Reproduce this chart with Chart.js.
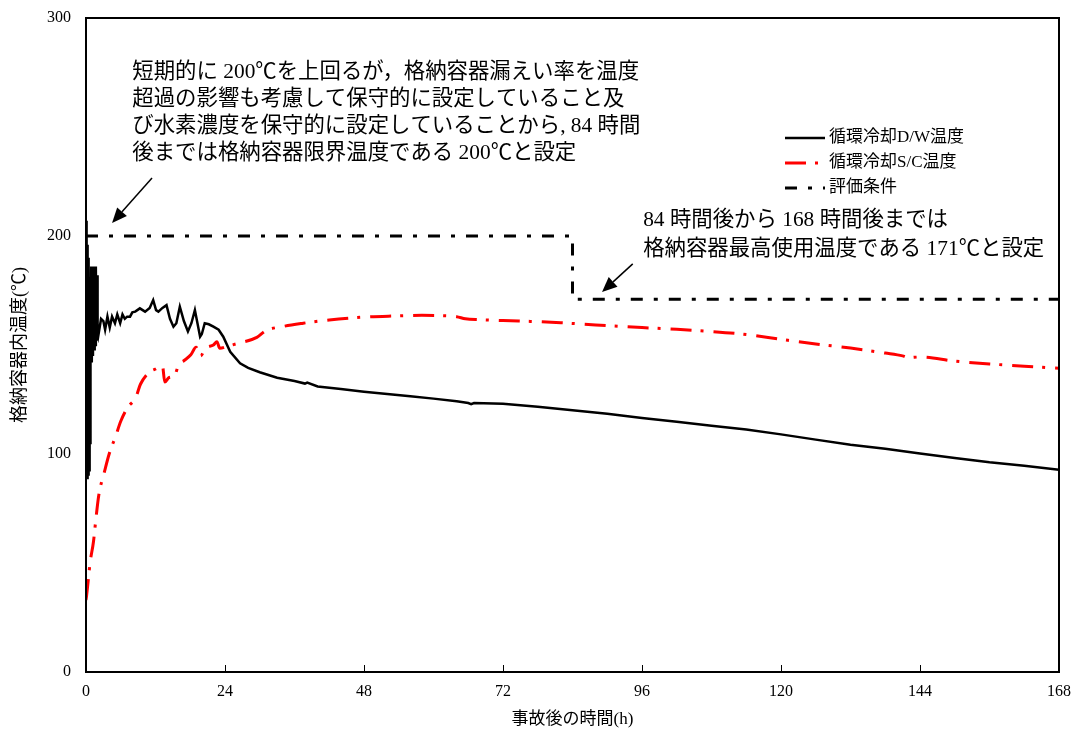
<!DOCTYPE html>
<html lang="ja">
<head>
<meta charset="utf-8">
<script src="https://cdn.jsdelivr.net/npm/chart.js@4.4.1/dist/chart.umd.min.js"></script>
<style>
  html, body { margin: 0; padding: 0; background: #fff; }
  #wrap { width: 1074px; height: 735px; }
</style>
</head>
<body>
<div id="wrap"><canvas id="c" width="1074" height="735"></canvas></div>
<script>
// Axis ticks
const xTicks = [0, 24, 48, 72, 96, 120, 144, 168];
const yTicks = [0, 100, 200, 300];

// Series labels
const labelDW = '循環冷却D/W温度';
const labelSC = '循環冷却S/C温度';
const labelLimit = '評価条件';

// Circulation-cooled D/W temperature (h, ℃)
const dwHours = [
  0, 0.05, 0.1, 0.15, 0.2, 0.25, 0.3, 0.35, 0.4, 0.45,
  0.5, 0.55, 0.6, 0.65, 0.7, 0.75, 0.8, 0.9, 1.0, 1.1,
  1.2, 1.3, 1.4, 1.5, 1.6, 1.7, 1.8, 1.9, 2.0, 2.1,
  2.6, 3.0, 3.3, 3.7, 4.1, 4.5, 5.0, 5.4, 5.9, 6.3,
  6.7, 7.1, 7.6, 8.0, 8.5, 9.3, 10.2, 11.0, 11.6, 12.1,
  12.5, 13.2, 13.9, 14.5, 15.1, 15.6, 16.2, 16.9, 17.6, 18.2,
  18.8, 19.7, 20.0, 20.5, 21.2, 22.0, 22.9, 23.7, 24.9, 26.6,
  28, 30, 33, 36, 37.8, 38.2, 40, 44, 48, 52,
  56, 60, 64, 66, 66.5, 67, 72, 78, 84, 90,
  96, 102, 108, 114, 120, 126, 132, 138, 144, 150,
  156, 162, 168
];
const dwTemp = [
  140, 207, 92, 201, 89, 196, 95, 190, 90, 186,
  100, 181, 92, 176, 105, 170, 140, 186, 142, 185,
  145, 186, 148, 184, 150, 186, 152, 182, 155, 153.8,
  162, 161, 157, 163, 158, 163, 160, 164, 160, 164,
  162, 163, 163, 165, 165.3, 166.8, 165.3, 167, 170.6, 166,
  165.3, 167, 168.3, 162, 158.4, 160, 167.6, 161, 156.2, 160,
  166, 153.8, 155, 160, 159.5, 158.4, 157, 153.8, 146.9, 141.6,
  139.5, 137.5, 135, 133.5, 132.3, 132.8, 131, 129.8, 128.6, 127.5,
  126.5, 125.4, 124.2, 123.4, 122.9, 123.4, 123.1, 121.7, 120.1, 118.5,
  116.5, 114.8, 113, 111.2, 109, 106.6, 104.2, 102.4, 100.2, 98.2,
  96.2, 94.6, 92.8
];

// Circulation-cooled S/C temperature (h, ℃)
const scHours = [
  0, 0.1, 0.5, 0.7, 1.3, 1.7, 2.2, 3.2, 4.0, 5.1,
  6.0, 7.1, 8.6, 9.4, 10.9, 12.0, 13.2, 13.6, 14.3, 15.3,
  16.0, 17.0, 18.1, 19.0, 19.8, 20.6, 22.0, 22.6, 23.1, 24.5,
  26.6, 29.5, 31, 34, 37.5, 42, 48, 53, 58, 61,
  64, 65.5, 68, 72, 78, 82, 88, 96, 102, 108,
  114, 120, 126, 132, 138, 141, 142, 144, 150, 156,
  162, 168
];
const scTemp = [
  33, 35, 45, 50, 60, 70, 81, 92, 100, 108,
  115, 121, 126, 132, 137.5, 139, 140.5, 133, 135, 136,
  141, 143, 145.5, 149, 145, 148.5, 150, 151.5, 148.5, 149.5,
  151, 153.5, 156.5, 158.5, 160, 161.5, 162.8, 163.3, 163.6, 163.5,
  163, 162, 161.6, 161.2, 160.7, 160.2, 159.2, 158, 157.2, 156.2,
  154.8, 152.6, 150.5, 148.6, 146.3, 145, 144.2, 144.5, 142.6, 141.3,
  140.3, 139.3
];

// Evaluation condition: 200℃ up to 84 h, then 171℃ up to 168 h
const limitHours = [0, 84, 84, 168];
const limitTemp = [200, 200, 171, 171];

// Notes
const noteLimit200 = [
  '短期的に 200℃を上回るが，格納容器漏えい率を温度',
  '超過の影響も考慮して保守的に設定していること及',
  'び水素濃度を保守的に設定していることから, 84 時間',
  '後までは格納容器限界温度である 200℃と設定'
];
const noteLimit171 = [
  '84 時間後から 168 時間後までは',
  '格納容器最高使用温度である 171℃と設定'
];

const SERIF = "'Liberation Serif', 'Noto Sans CJK JP', serif";

function pairs(xs, ys) {
  return xs.map((x, i) => ({ x: x, y: ys[i] }));
}

// Frame, inner tick marks, notes with arrows, and the legend box
const decorations = {
  id: 'decorations',
  afterDatasetsDraw(chart) {
    const { ctx, chartArea: a, scales: { x, y } } = chart;
    ctx.save();

    // plot frame
    ctx.strokeStyle = '#000';
    ctx.lineWidth = 2;
    ctx.setLineDash([]);
    ctx.strokeRect(a.left, a.top, a.right - a.left, a.bottom - a.top);

    // x tick marks pointing inward
    ctx.lineWidth = 1;
    xTicks.slice(1, -1).forEach(v => {
      const px = Math.round(x.getPixelForValue(v)) + 0.5;
      ctx.beginPath();
      ctx.moveTo(px, a.bottom);
      ctx.lineTo(px, a.bottom - 7);
      ctx.stroke();
    });

    // notes
    ctx.fillStyle = '#000';
    ctx.font = '21.4px ' + SERIF;
    ctx.textAlign = 'left';
    ctx.textBaseline = 'middle';
    const notes = [
      { lines: noteLimit200, hx: 8.0, ty: 275.2, step: 27 },
      { lines: noteLimit171, hx: 96.2, ty: 207.3, step: 29 }
    ];
    notes.forEach(n => {
      const px = x.getPixelForValue(n.hx);
      const py = y.getPixelForValue(n.ty);
      n.lines.forEach((t, i) => ctx.fillText(t, px, py + i * n.step));
    });

    // arrows pointing at the evaluation condition
    const arrows = [
      { from: [11.4, 226.6], to: [4.5, 206] },
      { from: [94.4, 187.2], to: [89.1, 174.3] }
    ];
    arrows.forEach(ar => {
      const x0 = x.getPixelForValue(ar.from[0]), y0 = y.getPixelForValue(ar.from[1]);
      const x1 = x.getPixelForValue(ar.to[0]), y1 = y.getPixelForValue(ar.to[1]);
      const ang = Math.atan2(y1 - y0, x1 - x0);
      const len = 15, half = 6.5;
      const bx = x1 - len * Math.cos(ang), by = y1 - len * Math.sin(ang);
      ctx.lineWidth = 1.5;
      ctx.beginPath();
      ctx.moveTo(x0, y0);
      ctx.lineTo(bx, by);
      ctx.stroke();
      ctx.beginPath();
      ctx.moveTo(x1, y1);
      ctx.lineTo(bx + half * Math.sin(ang), by - half * Math.cos(ang));
      ctx.lineTo(bx - half * Math.sin(ang), by + half * Math.cos(ang));
      ctx.closePath();
      ctx.fill();
    });

    // legend
    const lx = a.right - 274, ly = a.top + 120, rowH = 25, sw = 40;
    ctx.font = '17px ' + SERIF;
    chart.data.datasets.forEach((ds, i) => {
      const yy = ly + i * rowH;
      ctx.strokeStyle = ds.borderColor;
      ctx.lineWidth = ds.borderWidth;
      ctx.setLineDash(ds.borderDash || []);
      ctx.lineCap = 'butt';
      ctx.beginPath();
      ctx.moveTo(lx, yy);
      ctx.lineTo(lx + sw, yy);
      ctx.stroke();
      ctx.setLineDash([]);
      ctx.fillStyle = '#000';
      ctx.fillText(ds.label, lx + sw + 4, yy);
    });

    ctx.restore();
  }
};

const tickFont = { family: SERIF, size: 16 };
const titleFont = { family: SERIF, size: 17 };
const yTitleFont = { family: SERIF, size: 18 };

new Chart(document.getElementById('c'), {
  type: 'line',
  data: {
    datasets: [
      {
        label: labelDW,
        data: pairs(dwHours, dwTemp),
        borderColor: '#000000',
        borderWidth: 2.5,
        borderDash: [],
        pointRadius: 0,
        tension: 0,
        fill: false
      },
      {
        label: labelSC,
        data: pairs(scHours, scTemp),
        borderColor: '#ff0000',
        borderWidth: 3,
        borderDash: [21, 9, 3, 10],
        pointRadius: 0,
        cubicInterpolationMode: 'monotone',
        fill: false
      },
      {
        label: labelLimit,
        data: pairs(limitHours, limitTemp),
        borderColor: '#000000',
        borderWidth: 3,
        borderDash: [12, 11, 4, 11],
        pointRadius: 0,
        tension: 0,
        fill: false
      }
    ]
  },
  options: {
    responsive: false,
    animation: false,
    devicePixelRatio: 1,
    layout: { padding: { left: 0, right: 15, top: 18, bottom: 0 } },
    plugins: {
      legend: { display: false },
      tooltip: { enabled: false }
    },
    scales: {
      x: {
        type: 'linear',
        min: 0,
        max: 168,
        afterBuildTicks: s => { s.ticks = xTicks.map(v => ({ value: v })); },
        afterFit: s => { s.height = 63; s.paddingLeft = 0; s.paddingRight = 0; },
        ticks: { font: tickFont, color: '#000', padding: 10, maxRotation: 0, autoSkip: false },
        grid: { display: false, drawTicks: false },
        border: { display: false },
        title: { display: true, text: '事故後の時間(h)', font: titleFont, color: '#000', padding: { top: 0, bottom: 5 } }
      },
      y: {
        min: 0,
        max: 300,
        afterBuildTicks: s => { s.ticks = yTicks.map(v => ({ value: v })); },
        afterFit: s => { s.width = 86; s.paddingTop = 0; s.paddingBottom = 0; },
        ticks: { font: tickFont, color: '#000', padding: 15 },
        grid: { display: false, drawTicks: false },
        border: { display: false },
        title: { display: true, text: '格納容器内温度(℃)', font: yTitleFont, color: '#000', padding: { top: 9, bottom: 0 } }
      }
    }
  },
  plugins: [decorations]
});
</script>
</body>
</html>
